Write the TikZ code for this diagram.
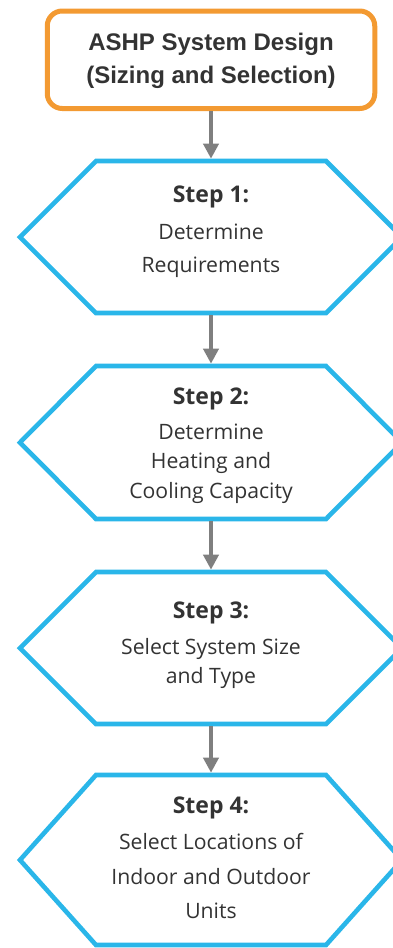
\documentclass[tikz,border=0pt]{standalone}
\usepackage{fontspec}
\usetikzlibrary{arrows.meta}
\setmainfont{Open Sans}
\newfontfamily\headfont{Liberation Sans}
\definecolor{boxorange}{HTML}{F39A32}
\definecolor{stepblue}{HTML}{2AB6E9}
\definecolor{arrowgray}{HTML}{7F7F7F}
\definecolor{ink}{HTML}{333333}

% outline of a step: flat top and bottom, pointed left and right ends
\newcommand\hexoutline[2]{%
  \draw[hexline] (#1.north west) -- (#1.north east) -- ([xshift=#2]#1.east)
    -- (#1.south east) -- (#1.south west) -- ([xshift=-#2]#1.west) -- cycle;}

\begin{document}
\begin{tikzpicture}[x=1pt, y={(0pt,-1pt)},
  titlebox/.style={draw=boxorange, line width=5pt, rounded corners=15pt,
    minimum width=327.5pt, minimum height=97.5pt, inner sep=0pt},
  hexbox/.style={inner sep=0pt, outer sep=0pt, minimum width=230pt},
  hexline/.style={draw=stepblue, line width=4.6pt, line join=miter},
  flow/.style={draw=arrowgray, line width=4pt,
    -{Triangle[width=15pt,length=15pt]}, shorten >=2.3pt},
  textline/.style={anchor=base, inner sep=0pt, text=ink},
  headline/.style={textline, font=\headfont\bfseries\fontsize{24}{28}\selectfont},
  steptitle/.style={textline, font=\bfseries\fontsize{23}{28}\selectfont},
  stepline/.style={textline, font=\fontsize{21.2}{25}\selectfont}]

\useasboundingbox (0,0) rectangle (393,948);
\clip (0,0) rectangle (393,948);

% heading box
\node[titlebox] (title) at (211,59.75) {};
\node[headline] (title1) at (211,50) {ASHP System Design};
\node[headline] (title2) at (211,83) {(Sizing and Selection)};

% step shapes
\node[hexbox, minimum height=152pt] (s1) at (211,237) {};
\node[hexbox, minimum height=153pt] (s2) at (211,442.5) {};
\node[hexbox, minimum height=152pt] (s3) at (211,648) {};
\node[hexbox, minimum height=170pt] (s4) at (211,860) {};
\hexoutline{s1}{76pt}
\hexoutline{s2}{76pt}
\hexoutline{s3}{76pt}
\hexoutline{s4}{76pt}

% step texts
\node[steptitle] (s1t) at (211,202) {Step 1:};
\node[stepline] (s1a) at (211,239) {Determine};
\node[stepline] (s1b) at (211,272) {Requirements};

\node[steptitle] (s2t) at (211,404) {Step 2:};
\node[stepline] (s2a) at (211,439) {Determine};
\node[stepline] (s2b) at (211,468.5) {Heating and};
\node[stepline] (s2c) at (211,498) {Cooling Capacity};

\node[steptitle] (s3t) at (211,618) {Step 3:};
\node[stepline] (s3a) at (211,654) {Select System Size};
\node[stepline] (s3b) at (211,683) {and Type};

\node[steptitle] (s4t) at (211,813) {Step 4:};
\node[stepline] (s4a) at (211,849) {Select Locations of};
\node[stepline] (s4b) at (211,884) {Indoor and Outdoor};
\node[stepline] (s4c) at (211,918) {Units};

% connectors
\draw[flow] (title.south) -- (s1.north);
\draw[flow] (s1.south) ++(0,2.3) -- (s2.north);
\draw[flow] (s2.south) ++(0,2.3) -- (s3.north);
\draw[flow] (s3.south) ++(0,2.3) -- (s4.north);
\end{tikzpicture}
\end{document}
